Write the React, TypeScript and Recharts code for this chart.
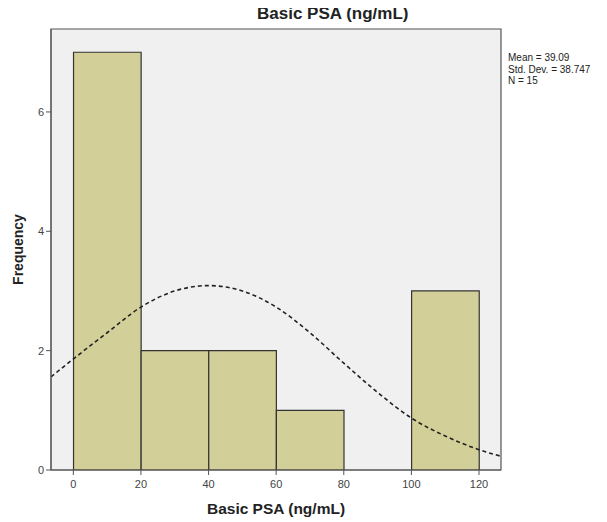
import { ComposedChart, Bar, Line, XAxis, YAxis, ReferenceArea, Label, Rectangle } from 'recharts'

// histogram bins (centre of each 20-wide bin) and counts
const binCentres = [10, 30, 50, 70, 90, 110]
const binCounts = [7, 2, 2, 1, 0, 3]

// dashed normal curve
const curveX = [-6.6, 0, 10, 20, 30, 40, 50, 60, 70, 80, 90, 100, 110, 120, 126.5]
const curveY = [1.56, 1.86, 2.3, 2.73, 3.0, 3.09, 3.0, 2.73, 2.3, 1.79, 1.3, 0.87, 0.57, 0.34, 0.23]

const xTicks = [0, 20, 40, 60, 80, 100, 120]
const yTicks = [0, 2, 4, 6]
const statLines = ['Mean = 39.09', 'Std. Dev. = 38.747', 'N = 15']

const X_MIN = -6.6
const X_MAX = 126.5
const Y_MAX = 7.39
const BIN_WIDTH = 20
const PLOT_W = 450

const FONT = '"Liberation Sans", Arial, sans-serif'

// bars on a number axis get squeezed, so widen each one to its full bin
const BinBar = (props: any) => {
  const w = (BIN_WIDTH / (X_MAX - X_MIN)) * PLOT_W
  const cx = props.x + props.width / 2
  if (!props.height) return null
  return <Rectangle x={cx - w / 2} y={props.y} width={w} height={props.height}
    fill="#d3cf98" stroke="#333" strokeWidth={1.2} />
}

export default function App() {
  const bars = binCentres.map((x, i) => ({ x, count: binCounts[i] }))
  const curve = curveX.map((x, i) => ({ x, curve: curveY[i] }))

  return (
    <div style={{ position: 'relative', width: 599, height: 514, fontFamily: FONT }}>
      <div style={{ position: 'absolute', left: 249, top: -4, fontSize: 17, fontWeight: 'bold', color: '#222', whiteSpace: 'nowrap' }}>
        Basic PSA (ng/mL)
      </div>
      <div style={{ position: 'absolute', left: 500, top: 44, fontSize: 10, lineHeight: '11.5px', color: '#222', whiteSpace: 'nowrap' }}>
        {statLines.map(s => <div key={s}>{s}</div>)}
      </div>
      <ComposedChart width={599} height={514} data={bars}
        margin={{ top: 21, right: 106, bottom: 0, left: 0 }}>
        <XAxis dataKey="x" type="number" domain={[X_MIN, X_MAX]} ticks={xTicks}
          allowDataOverflow interval={0}
          axisLine={{ stroke: '#555' }} tickLine={{ stroke: '#555' }} tickSize={5} tickMargin={5}
          tick={{ fill: '#444', fontSize: 11, fontFamily: FONT }} height={52}>
          <Label value="Basic PSA (ng/mL)" position="insideBottom" offset={8}
            style={{ fontSize: 15.5, fontWeight: 'bold', fill: '#222', fontFamily: FONT }} />
        </XAxis>
        <YAxis type="number" domain={[0, Y_MAX]} ticks={yTicks} allowDataOverflow
          axisLine={{ stroke: '#555' }} tickLine={{ stroke: '#555' }} tickSize={5}
          tick={{ fill: '#444', fontSize: 11, fontFamily: FONT }} width={43}>
          <Label value="Frequency" angle={-90} position="insideLeft" offset={10}
            style={{ fontSize: 14, fontWeight: 'bold', fill: '#222', fontFamily: FONT, textAnchor: 'middle' }} />
        </YAxis>
        <ReferenceArea x1={X_MIN} x2={X_MAX} y1={0} y2={Y_MAX} fill="#f0f0f0" fillOpacity={1}
          stroke="#555" strokeWidth={1.2} />
        <Bar dataKey="count" shape={BinBar} fill="#d3cf98" isAnimationActive={false} />
        <Line data={curve} dataKey="curve" type="monotone" stroke="#222" strokeWidth={1.6}
          strokeDasharray="4 3" dot={false} isAnimationActive={false} />
      </ComposedChart>
    </div>
  )
}
